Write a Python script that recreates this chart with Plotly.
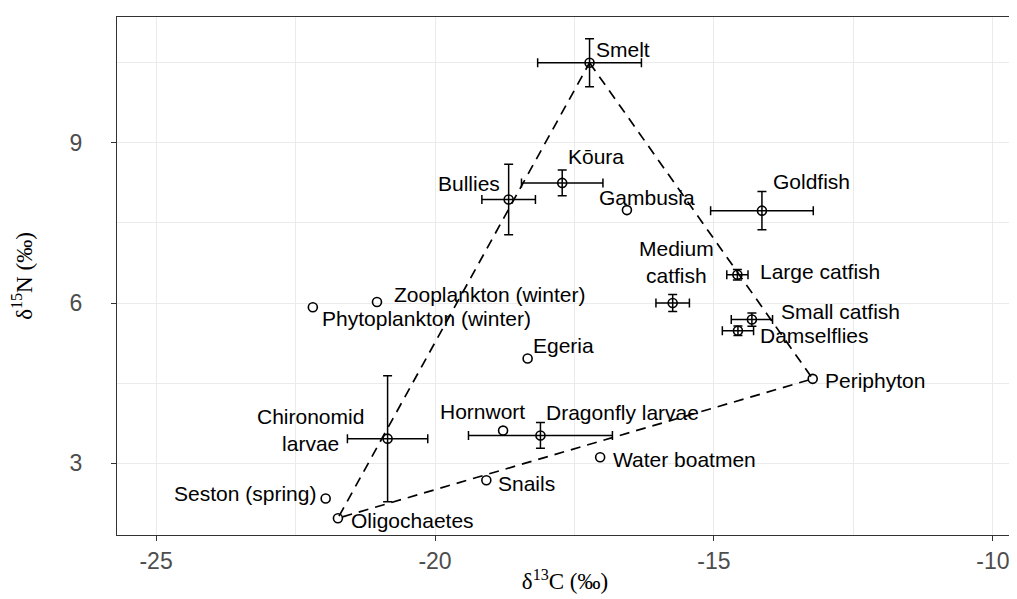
import plotly.graph_objects as go

# ---- data ----
taxa = ["Smelt", "Bullies", "Kōura", "Gambusia", "Goldfish", "Large catfish",
        "Medium catfish", "Small catfish", "Damselflies", "Periphyton",
        "Chironomid larvae", "Seston (spring)", "Oligochaetes", "Hornwort",
        "Dragonfly larvae", "Water boatmen", "Snails", "Phytoplankton (winter)",
        "Zooplankton (winter)", "Egeria"]
d13C = [-17.23, -18.68, -17.72, -16.56, -14.14, -14.58, -15.74, -14.32, -14.57, -13.23,
        -20.85, -21.96, -21.74, -18.78, -18.11, -17.04, -19.08, -22.19, -21.04, -18.34]
d15N = [10.50, 7.94, 8.25, 7.74, 7.73, 6.53, 6.00, 5.69, 5.48, 4.58,
        3.46, 2.34, 1.97, 3.61, 3.52, 3.11, 2.68, 5.92, 6.02, 4.96]
c_err = [0.93, 0.48, 0.73, None, 0.92, 0.19, 0.30, 0.37, 0.28, None,
         0.72, None, None, None, 1.29, None, None, None, None, None]
n_err = [0.45, 0.66, 0.24, None, 0.36, 0.10, 0.16, 0.125, 0.09, None,
         1.18, None, None, None, 0.24, None, None, None, None, None]
label_text = ["Smelt", "Bullies", "Kōura", "Gambusia", "Goldfish", "Large catfish",
              "Medium<br>catfish", "Small catfish", "Damselflies", "Periphyton",
              "Chironomid<br>larvae", "Seston (spring)", "Oligochaetes", "Hornwort",
              "Dragonfly larvae", "Water boatmen", "Snails", "Phytoplankton (winter)",
              "Zooplankton (winter)", "Egeria"]
triangle = ["Smelt", "Periphyton", "Oligochaetes", "Smelt"]
x_ticks = [-25, -20, -15, -10]
y_ticks = [3, 6, 9]

# label placement offsets in screen pixels (dx right, dy down) from each point
label_offset = {
    "Smelt": (33, -13), "Kōura": (34, -26), "Bullies": (-40, -16), "Gambusia": (20, -13),
    "Goldfish": (50, -29), "Medium catfish": (4, -41), "Large catfish": (83, -3),
    "Small catfish": (89, -8), "Damselflies": (77, 5), "Periphyton": (62, 2),
    "Chironomid larvae": (-77, -9), "Seston (spring)": (-81, -5), "Oligochaetes": (75, 2),
    "Hornwort": (-21, -19), "Dragonfly larvae": (82, -23), "Water boatmen": (84, 2),
    "Snails": (40, 3), "Phytoplankton (winter)": (114, 11), "Zooplankton (winter)": (113, -7),
    "Egeria": (36, -13),
}

fig = go.Figure()

# triangle (dashed)
tx = [d13C[taxa.index(t)] for t in triangle]
ty = [d15N[taxa.index(t)] for t in triangle]
fig.add_trace(go.Scatter(x=tx, y=ty, mode="lines",
                         line=dict(color="black", width=1.7, dash="10px,7px"),
                         hoverinfo="skip", showlegend=False))

# points with error bars
idx_e = [i for i in range(len(taxa)) if c_err[i] is not None]
idx_n = [i for i in range(len(taxa)) if c_err[i] is None]
fig.add_trace(go.Scatter(
    x=[d13C[i] for i in idx_e], y=[d15N[i] for i in idx_e], mode="markers",
    marker=dict(symbol="circle-open", size=9, color="black", line=dict(width=1.6, color="black")),
    error_x=dict(type="data", array=[c_err[i] for i in idx_e], color="black", thickness=1.5, width=4.5),
    error_y=dict(type="data", array=[n_err[i] for i in idx_e], color="black", thickness=1.5, width=4.5),
    showlegend=False))
fig.add_trace(go.Scatter(
    x=[d13C[i] for i in idx_n], y=[d15N[i] for i in idx_n], mode="markers",
    marker=dict(symbol="circle-open", size=9, color="black", line=dict(width=1.6, color="black")),
    showlegend=False))

for i, t in enumerate(taxa):
    dx, dy = label_offset[t]
    fig.add_annotation(x=d13C[i], y=d15N[i], text=label_text[i], showarrow=False,
                       xshift=dx, yshift=-dy, xanchor="center", yanchor="middle",
                       font=dict(family="Liberation Sans, Arial", size=21, color="black"))

grid_c = "#EBEBEB"
fig.update_layout(
    width=1017, height=599,
    margin=dict(l=109, r=12, t=9, b=72),
    plot_bgcolor="white", paper_bgcolor="white",
    xaxis=dict(range=[-25.70, -9.64], tickvals=x_ticks, ticktext=[str(v) for v in x_ticks],
               automargin=False,
               showgrid=True, gridcolor=grid_c, gridwidth=1.4, zeroline=False,
               minor=dict(dtick=2.5, tick0=-25, showgrid=True, gridcolor=grid_c, gridwidth=1.0),
               ticks="outside", ticklen=5, tickcolor="#333333", tickwidth=1.3,
               showline=True, linecolor="#333333", linewidth=1.3, mirror=True,
               tickfont=dict(family="Liberation Sans, Arial", size=23, color="#4D4D4D"),
               title=dict(text="δ<sup>13</sup>C (‰)", standoff=0,
                          font=dict(family="Liberation Serif, Times New Roman", size=23, color="black"))),
    yaxis=dict(range=[1.655, 11.357], tickvals=y_ticks, ticktext=[str(v) for v in y_ticks],
               automargin=False,
               showgrid=True, gridcolor=grid_c, gridwidth=1.4, zeroline=False,
               minor=dict(dtick=1.5, tick0=3, showgrid=True, gridcolor=grid_c, gridwidth=1.0),
               ticks="outside", ticklen=5, tickcolor="#333333", tickwidth=1.3,
               showline=True, linecolor="#333333", linewidth=1.3, mirror=True,
               ticklabelstandoff=24,
               tickfont=dict(family="Liberation Sans, Arial", size=23, color="#4D4D4D"),
               title=dict(text="δ<sup>15</sup>N (‰)", standoff=34,
                          font=dict(family="Liberation Serif, Times New Roman", size=23, color="black"))),
)

fig.write_html("out.html")
